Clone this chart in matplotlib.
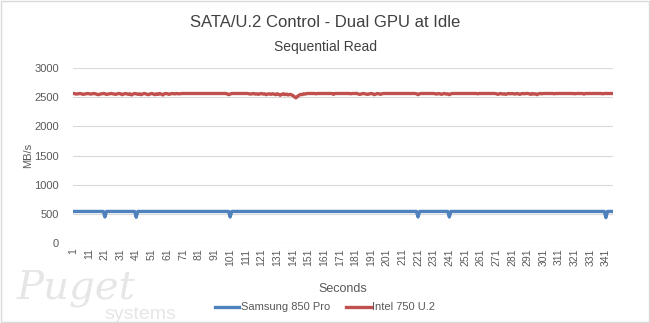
"""SATA/U.2 control: sequential read throughput over time, dual GPU at idle."""
import matplotlib
matplotlib.use("Agg")
import matplotlib.pyplot as plt
from matplotlib.lines import Line2D
from matplotlib.patches import Rectangle

plt.rcParams["font.family"] = ["Liberation Sans", "DejaVu Sans"]

seconds = list(range(1, 346))

samsung = [
    540, 540, 540, 540, 540, 540, 540, 540, 540, 540,
    540, 540, 540, 540, 540, 540, 540, 540, 540, 540,
    445, 540, 540, 540, 540, 540, 540, 540, 540, 540,
    540, 540, 540, 540, 540, 540, 540, 540, 540, 540,
    440, 540, 540, 540, 540, 540, 540, 540, 540, 540,
    540, 540, 540, 540, 540, 540, 540, 540, 540, 540,
    540, 540, 540, 540, 540, 540, 540, 540, 540, 540,
    540, 540, 540, 540, 540, 540, 540, 540, 540, 540,
    540, 540, 540, 540, 540, 540, 540, 540, 540, 540,
    540, 540, 540, 540, 540, 540, 540, 540, 540, 540,
    445, 540, 540, 540, 540, 540, 540, 540, 540, 540,
    540, 540, 540, 540, 540, 540, 540, 540, 540, 540,
    540, 540, 540, 540, 540, 540, 540, 540, 540, 540,
    540, 540, 540, 540, 540, 540, 540, 540, 540, 540,
    540, 540, 540, 540, 540, 540, 540, 540, 540, 540,
    540, 540, 540, 540, 540, 540, 540, 540, 540, 540,
    540, 540, 540, 540, 540, 540, 540, 540, 540, 540,
    540, 540, 540, 540, 540, 540, 540, 540, 540, 540,
    540, 540, 540, 540, 540, 540, 540, 540, 540, 540,
    540, 540, 540, 540, 540, 540, 540, 540, 540, 540,
    540, 540, 540, 540, 540, 540, 540, 540, 540, 540,
    540, 540, 540, 540, 540, 540, 540, 540, 540, 540,
    445, 540, 540, 540, 540, 540, 540, 540, 540, 540,
    540, 540, 540, 540, 540, 540, 540, 540, 540, 540,
    445, 540, 540, 540, 540, 540, 540, 540, 540, 540,
    540, 540, 540, 540, 540, 540, 540, 540, 540, 540,
    540, 540, 540, 540, 540, 540, 540, 540, 540, 540,
    540, 540, 540, 540, 540, 540, 540, 540, 540, 540,
    540, 540, 540, 540, 540, 540, 540, 540, 540, 540,
    540, 540, 540, 540, 540, 540, 540, 540, 540, 540,
    540, 540, 540, 540, 540, 540, 540, 540, 540, 540,
    540, 540, 540, 540, 540, 540, 540, 540, 540, 540,
    540, 540, 540, 540, 540, 540, 540, 540, 540, 540,
    540, 540, 540, 540, 540, 540, 540, 540, 540, 540,
    435, 540, 540, 540, 540,
]

intel = [
    2565, 2560, 2555, 2560, 2565, 2560, 2550, 2555, 2560, 2565,
    2560, 2555, 2560, 2565, 2560, 2550, 2545, 2555, 2560, 2565,
    2560, 2550, 2555, 2560, 2565, 2560, 2555, 2550, 2560, 2565,
    2560, 2545, 2555, 2565, 2560, 2550, 2560, 2540, 2555, 2565,
    2560, 2550, 2560, 2545, 2555, 2565, 2560, 2550, 2545, 2560,
    2565, 2555, 2545, 2560, 2550, 2565, 2555, 2540, 2560, 2565,
    2560, 2550, 2560, 2565, 2560, 2560, 2565, 2560, 2560, 2565,
    2565, 2565, 2565, 2565, 2565, 2565, 2565, 2565, 2565, 2565,
    2565, 2565, 2565, 2565, 2565, 2565, 2565, 2565, 2565, 2565,
    2565, 2565, 2565, 2565, 2565, 2565, 2565, 2565, 2560, 2545,
    2555, 2565, 2565, 2565, 2565, 2565, 2565, 2565, 2565, 2565,
    2565, 2565, 2560, 2555, 2560, 2565, 2555, 2560, 2550, 2560,
    2565, 2555, 2560, 2545, 2555, 2560, 2550, 2560, 2555, 2545,
    2560, 2550, 2535, 2550, 2560, 2545, 2555, 2540, 2550, 2545,
    2530, 2510, 2490, 2515, 2535, 2550, 2545, 2560, 2555, 2565,
    2565, 2565, 2565, 2565, 2565, 2560, 2565, 2565, 2565, 2565,
    2565, 2565, 2565, 2565, 2565, 2565, 2550, 2565, 2565, 2565,
    2565, 2565, 2565, 2565, 2565, 2565, 2565, 2560, 2565, 2565,
    2565, 2565, 2555, 2550, 2560, 2565, 2560, 2555, 2550, 2560,
    2565, 2560, 2545, 2555, 2565, 2560, 2550, 2560, 2565, 2565,
    2565, 2565, 2565, 2565, 2565, 2565, 2565, 2565, 2565, 2565,
    2565, 2565, 2565, 2565, 2565, 2565, 2565, 2565, 2565, 2560,
    2545, 2560, 2565, 2565, 2565, 2565, 2565, 2565, 2565, 2565,
    2565, 2560, 2555, 2565, 2560, 2550, 2560, 2565, 2555, 2560,
    2545, 2560, 2565, 2565, 2565, 2565, 2565, 2565, 2565, 2565,
    2565, 2565, 2565, 2565, 2565, 2565, 2565, 2565, 2560, 2565,
    2565, 2565, 2565, 2565, 2565, 2565, 2565, 2565, 2565, 2565,
    2560, 2550, 2560, 2565, 2555, 2560, 2550, 2560, 2565, 2560,
    2565, 2560, 2555, 2565, 2560, 2550, 2560, 2565, 2560, 2565,
    2565, 2560, 2550, 2565, 2555, 2560, 2545, 2560, 2565, 2560,
    2565, 2565, 2565, 2565, 2565, 2565, 2565, 2560, 2565, 2565,
    2565, 2565, 2565, 2565, 2565, 2565, 2565, 2565, 2565, 2565,
    2560, 2565, 2565, 2565, 2565, 2565, 2555, 2565, 2565, 2565,
    2565, 2565, 2565, 2565, 2565, 2565, 2565, 2565, 2560, 2565,
    2565, 2565, 2565, 2565, 2565,
]

x_ticks = list(range(1, 346, 10))
y_ticks = [0, 500, 1000, 1500, 2000, 2500, 3000]

BLUE = "#4F81BD"
RED = "#C0504D"
GRID = "#D9D9D9"
TXT = "#595959"

fig = plt.figure(figsize=(6.5, 3.23), dpi=100)
ax = fig.add_axes([0.112, 0.248, 0.831, 0.541])

# watermark behind everything
fig.text(0.025, 0.075, "Puget", fontsize=29, style="italic", family="DejaVu Serif",
         color="#E6E6E6", zorder=0)
fig.text(0.16, 0.012, "systems", fontsize=14, color="#E6E6E6", zorder=0)

ax.plot(seconds, samsung, color=BLUE, lw=2.4, zorder=3)
ax.plot(seconds, intel, color=RED, lw=2.4, zorder=3)

ax.set_xlim(0.5, 345.5)
ax.set_ylim(0, 3000)
ax.set_yticks(y_ticks)
ax.set_xticks(x_ticks)
ax.set_xticklabels([str(t) for t in x_ticks], rotation=90, fontsize=7.5, color=TXT)
ax.tick_params(axis="y", labelsize=8, colors=TXT, length=0, pad=10)
ax.tick_params(axis="x", length=0, pad=4)
ax.grid(axis="y", color=GRID, lw=0.8)
ax.set_axisbelow(True)
for s in ax.spines.values():
    s.set_visible(False)
ax.set_facecolor("none")

ax.set_xlabel("Seconds", fontsize=9, color=TXT, labelpad=12)
ax.set_ylabel("MB/s", fontsize=8, color=TXT, labelpad=1)

fig.text(0.5, 0.93, "SATA/U.2 Control - Dual GPU at Idle", ha="center", va="center",
         fontsize=12, color="#404040")
fig.text(0.5, 0.856, "Sequential Read", ha="center", va="center", fontsize=10, color="#404040")

handles = [Line2D([], [], color=BLUE, lw=2.4), Line2D([], [], color=RED, lw=2.4)]
fig.legend(handles, ["Samsung 850 Pro", "Intel 750 U.2"], loc="center",
           bbox_to_anchor=(0.5, 0.048), ncol=2, frameon=False, fontsize=8,
           handlelength=2.2, handletextpad=0.1, columnspacing=1.5, labelcolor=TXT)

fig.add_artist(Rectangle((0.001, 0.002), 0.997, 0.995, transform=fig.transFigure,
                         fill=False, edgecolor=GRID, lw=1))

fig.savefig("out.png", dpi=100)
